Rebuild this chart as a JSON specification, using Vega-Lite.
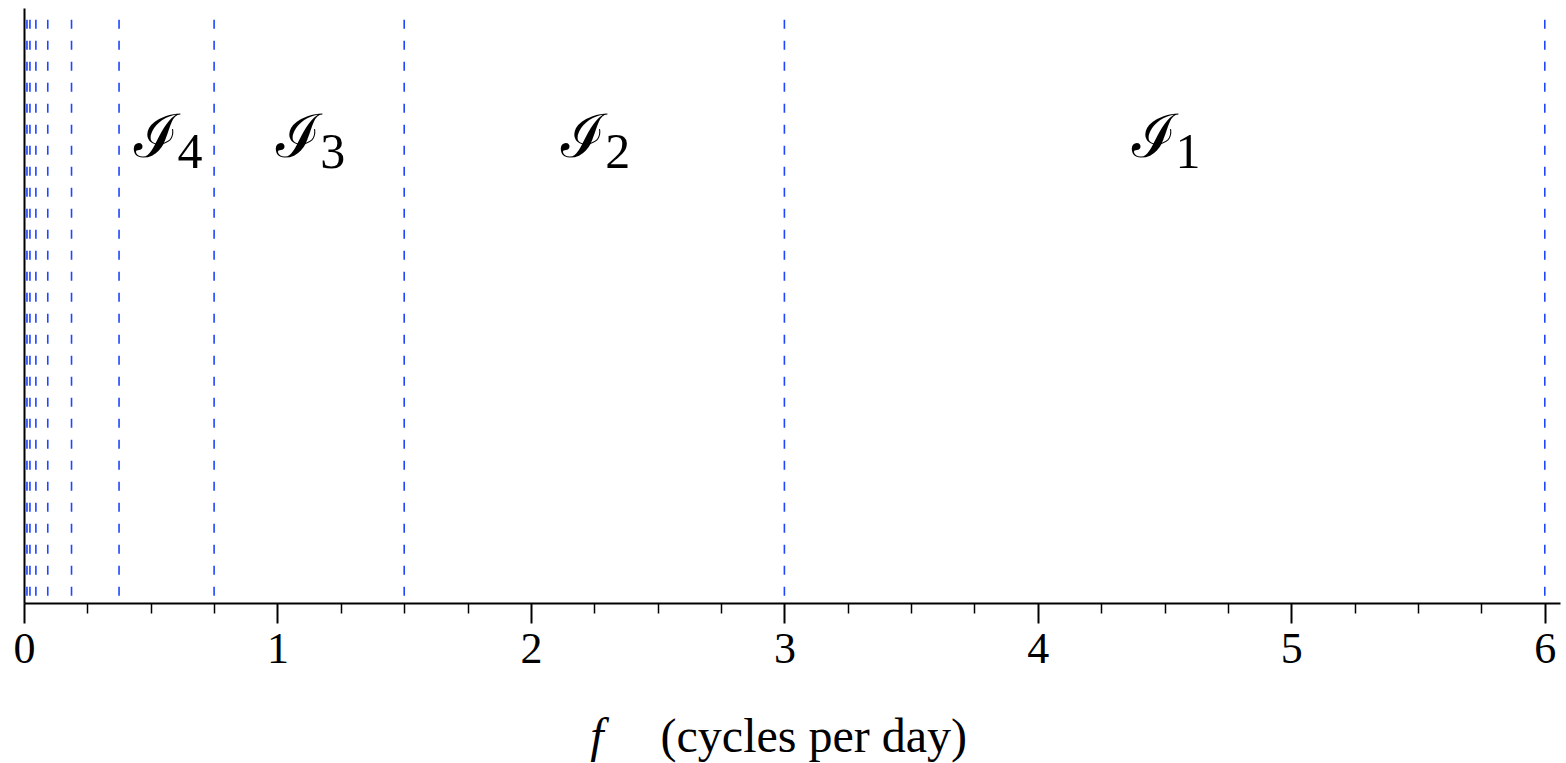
{
  "$schema": "https://vega.github.io/schema/vega-lite/v6.json",
  "width": 1536,
  "height": 595,
  "padding": {"left": 24, "top": 8, "right": 6, "bottom": 160},
  "autosize": {"type": "none"},
  "background": "white",
  "config": {"view": {"stroke": null}},
  "datasets": {
    "bounds": [
      {"f": 6}, {"f": 3}, {"f": 1.5}, {"f": 0.75}, {"f": 0.375},
      {"f": 0.1875}, {"f": 0.09375}, {"f": 0.046875}, {"f": 0.0234375}, {"f": 0.01171875}
    ],
    "intervals": [
      {"mid": 4.5, "sub": "1"},
      {"mid": 2.25, "sub": "2"},
      {"mid": 1.125, "sub": "3"},
      {"mid": 0.5625, "sub": "4"}
    ]
  },
  "layer": [
    {
      "data": {"name": "bounds"},
      "mark": {"type": "rule", "color": "#1f45ff", "strokeDash": [9, 12], "strokeWidth": 1.6},
      "encoding": {
        "x": {
          "field": "f", "type": "quantitative",
          "scale": {"domain": [0, 6.06], "nice": false, "zero": false},
          "axis": {
            "values": [0, 0.25, 0.5, 0.75, 1, 1.25, 1.5, 1.75, 2, 2.25, 2.5, 2.75, 3, 3.25, 3.5, 3.75, 4, 4.25, 4.5, 4.75, 5, 5.25, 5.5, 5.75, 6],
            "labelExpr": "datum.value % 1 === 0 ? format(datum.value, 'd') : ''",
            "tickSize": {"condition": {"test": "datum.value % 1 === 0", "value": 20}, "value": 10},
            "tickWidth": {"condition": {"test": "datum.value % 1 === 0", "value": 2}, "value": 1.5},
            "tickColor": "black",
            "domainColor": "black",
            "domainWidth": 2,
            "labelFont": "Liberation Serif",
            "labelFontSize": 44,
            "labelColor": "black",
            "labelPadding": 4,
            "labelFlush": false,
            "labelOverlap": false,
            "grid": false,
            "title": null
          }
        },
        "y": {
          "datum": 1, "type": "quantitative",
          "scale": {"domain": [0, 1.02], "nice": false},
          "axis": {"ticks": false, "labels": false, "grid": false, "title": null, "domainColor": "black", "domainWidth": 2}
        },
        "y2": {"datum": 0}
      }
    },
    {
      "data": {"name": "intervals"},
      "mark": {"type": "text", "text": "ℐ", "font": "DejaVu Serif", "fontSize": 60, "align": "right", "baseline": "alphabetic", "dx": 12, "color": "black"},
      "encoding": {
        "x": {"field": "mid", "type": "quantitative"},
        "y": {"datum": 0.7646, "type": "quantitative"}
      }
    },
    {
      "data": {"name": "intervals"},
      "mark": {"type": "text", "font": "Liberation Serif", "fontSize": 50, "align": "left", "baseline": "alphabetic", "dx": 11, "dy": 11, "color": "black"},
      "encoding": {
        "x": {"field": "mid", "type": "quantitative"},
        "y": {"datum": 0.7646, "type": "quantitative"},
        "text": {"field": "sub"}
      }
    },
    {
      "data": {"values": [{"label": "f"}]},
      "mark": {"type": "text", "font": "Liberation Serif", "fontStyle": "italic", "fontSize": 48, "align": "center", "baseline": "alphabetic", "color": "black"},
      "encoding": {
        "x": {"datum": 2.26, "type": "quantitative"},
        "y": {"datum": -0.2554, "type": "quantitative"},
        "text": {"field": "label"}
      }
    },
    {
      "data": {"values": [{"label": "(cycles per day)"}]},
      "mark": {"type": "text", "font": "Liberation Serif", "fontSize": 48, "align": "center", "baseline": "alphabetic", "color": "black"},
      "encoding": {
        "x": {"datum": 3.116, "type": "quantitative"},
        "y": {"datum": -0.2554, "type": "quantitative"},
        "text": {"field": "label"}
      }
    }
  ]
}
